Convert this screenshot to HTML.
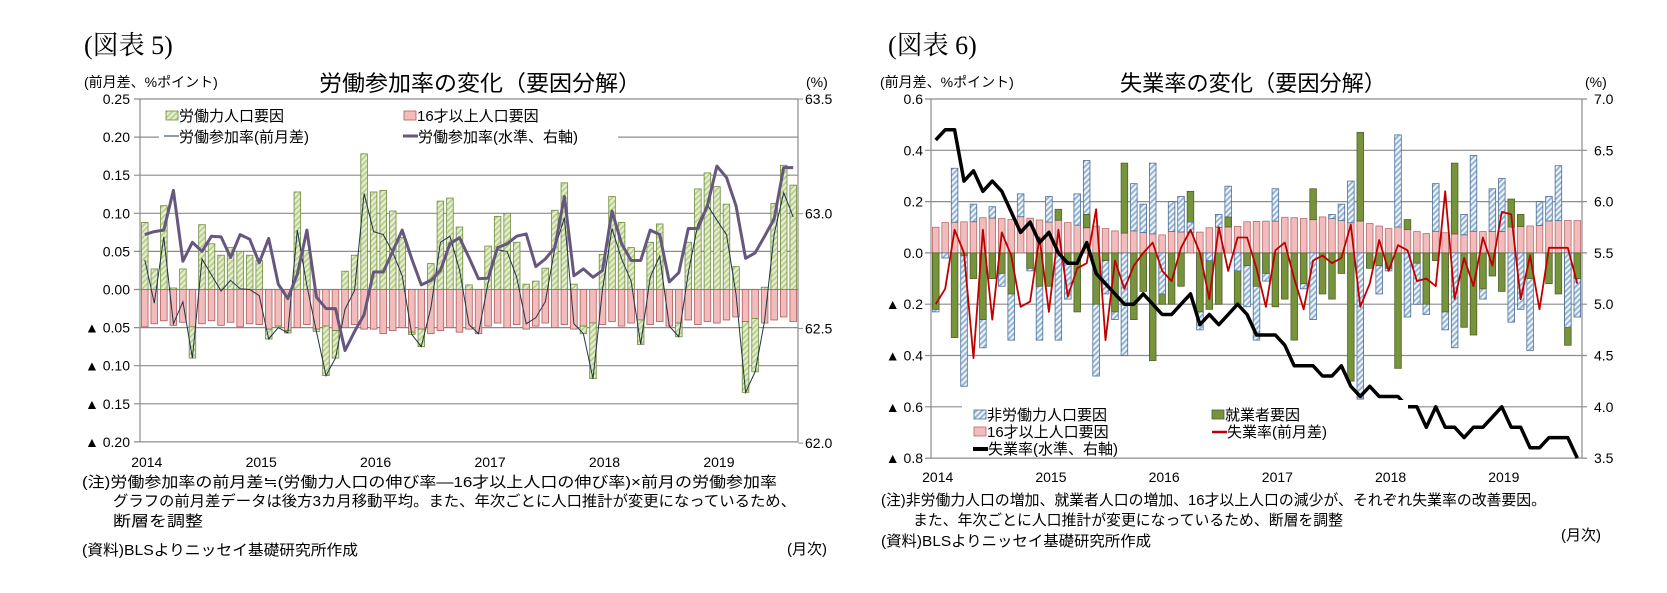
<!DOCTYPE html>
<html><head><meta charset="utf-8">
<style>
html,body{margin:0;padding:0;background:#fff;}
svg{display:block;}
text{font-family:"Liberation Sans","Noto Sans CJK JP",sans-serif;fill:#000;}
.ser{font-family:"Liberation Serif","Noto Serif CJK SC",serif;}
</style></head>
<body>
<svg id="s" width="1667" height="593" viewBox="0 0 1667 593" xmlns="http://www.w3.org/2000/svg">
<defs>
<pattern id="hg" width="4" height="4" patternUnits="userSpaceOnUse" patternTransform="rotate(45)">
<rect width="4" height="4" fill="#e4edcf"/><rect width="1.6" height="4" fill="#b5cc85"/></pattern>
<pattern id="hb" width="4" height="4" patternUnits="userSpaceOnUse" patternTransform="rotate(45)">
<rect width="4" height="4" fill="#eef3f8"/><rect width="1.8" height="4" fill="#8fb0d0"/></pattern>
</defs>
<g id="L"></g><g id="R"></g>
<text class="ser" x="84" y="54" font-size="26">(図表 5)</text>
<text x="84" y="87" font-size="14">(前月差、%ポイント)</text>
<text x="319" y="91" font-size="22" textLength="322" lengthAdjust="spacingAndGlyphs">労働参加率の変化（要因分解）</text>
<text x="806" y="87" font-size="14">(%)</text>
<text class="ser" x="888" y="54" font-size="26">(図表 6)</text>
<text x="880" y="87" font-size="14">(前月差、%ポイント)</text>
<text x="1120" y="91" font-size="22" textLength="266" lengthAdjust="spacingAndGlyphs">失業率の変化（要因分解）</text>
<text x="1585" y="87" font-size="14">(%)</text>

<text x="82" y="487" font-size="15" textLength="695" lengthAdjust="spacingAndGlyphs">(注)労働参加率の前月差≒(労働力人口の伸び率―16才以上人口の伸び率)×前月の労働参加率</text>
<text x="113" y="506" font-size="15" textLength="683" lengthAdjust="spacingAndGlyphs">グラフの前月差データは後方3カ月移動平均。また、年次ごとに人口推計が変更になっているため、</text>
<text x="113" y="526" font-size="15" textLength="90" lengthAdjust="spacingAndGlyphs">断層を調整</text>
<text x="82" y="555" font-size="15" textLength="276" lengthAdjust="spacingAndGlyphs">(資料)BLSよりニッセイ基礎研究所作成</text>
<text x="787" y="554" font-size="15">(月次)</text>

<text x="881" y="505" font-size="15" textLength="665" lengthAdjust="spacingAndGlyphs">(注)非労働力人口の増加、就業者人口の増加、16才以上人口の減少が、それぞれ失業率の改善要因。</text>
<text x="913" y="525" font-size="15" textLength="430" lengthAdjust="spacingAndGlyphs">また、年次ごとに人口推計が変更になっているため、断層を調整</text>
<text x="881" y="546" font-size="15" textLength="270" lengthAdjust="spacingAndGlyphs">(資料)BLSよりニッセイ基礎研究所作成</text>
<text x="1561" y="540" font-size="15">(月次)</text>
</svg>
<script>
var NS="http://www.w3.org/2000/svg";
function el(p,t,a,txt){var e=document.createElementNS(NS,t);for(var k in a)e.setAttribute(k,a[k]);if(txt!==undefined)e.textContent=txt;p.appendChild(e);return e;}
(function(){
var g=document.getElementById('L');
var x0=140,x1=798,yT=99,per=38.1/0.05;
function Y(v){return yT+(0.25-v)*per;}
var slot=(x1-x0)/69;
function X(i){return x0+slot*(i+0.5);}
var labs=["0.25","0.20","0.15","0.10","0.05","0.00","▲ 0.05","▲ 0.10","▲ 0.15","▲ 0.20"];
for(var k=0;k<10;k++){var v=0.25-0.05*k,y=Y(v);
 el(g,'line',{x1:x0-6,x2:x1,y1:y,y2:y,stroke:'#8c8c8c','stroke-width':1.2});
 el(g,'text',{x:130,y:y+5,'font-size':14,'text-anchor':'end'},labs[k]);}
for(var k=0;k<4;k++){var y=yT+k*114.7;el(g,'line',{x1:x1,x2:x1+5,y1:y,y2:y,stroke:'#8c8c8c'});
 el(g,'text',{x:805,y:y+5,'font-size':14},["63.5","63.0","62.5","62.0"][k]);}
el(g,'line',{x1:x0,x2:x0,y1:yT,y2:Y(-0.2),stroke:'#8c8c8c','stroke-width':1.2});
el(g,'line',{x1:x1,x2:x1,y1:yT,y2:Y(-0.2),stroke:'#8c8c8c','stroke-width':1.2});
var yrs=["2014","2015","2016","2017","2018","2019"];
for(var k=0;k<6;k++)el(g,'text',{x:X(12*k)+2,y:467,'font-size':14,'text-anchor':'middle'},yrs[k]);
var G=[0.088,0.027,0.11,0.002,0.027,-0.09,0.085,0.06,0.045,0.055,0.05,0.045,
0.038,-0.065,-0.05,-0.05,0.128,0.051,-0.05,-0.113,-0.09,0.024,0.045,0.178,
0.128,0.13,0.103,0.068,-0.05,-0.075,0.034,0.116,0.12,0.082,0.006,-0.058,
0.057,0.096,0.1,0.062,0.007,0.011,0.028,0.104,0.14,0.007,-0.058,-0.117,
0.046,0.122,0.088,0.055,-0.072,0.062,0.086,0.0,-0.062,0.062,0.132,0.153,
0.135,0.112,0.03,-0.135,-0.108,0.003,0.113,0.163,0.137];
var PY=[-0.045,-0.05,-0.054,-0.048,-0.044,-0.04];
var P=[0.072,0.076,0.078,0.13,0.037,0.062,0.05,0.07,0.069,0.042,0.072,0.066,
0.035,0.067,0.007,-0.012,0.02,0.078,-0.01,-0.025,-0.025,-0.08,-0.055,-0.033,
0.023,0.023,0.05,0.078,0.04,0.006,0.012,0.025,0.06,0.068,0.042,0.014,
0.015,0.055,0.06,0.07,0.073,0.03,0.04,0.055,
0.122,0.018,0.027,0.016,0.025,0.103,0.06,0.038,0.038,0.078,0.072,0.01,0.022,0.08,0.08,0.11,0.162,0.147,0.11,0.041,0.048,0.07,0.093,0.16,0.16];
var bw=6.6,thin=[],pur=[];
for(var i=0;i<69;i++){
 var p=PY[Math.floor(i/12)]+((i*7)%5-2)*0.002,x=X(i)-bw/2;
 el(g,'rect',{x:x,y:Y(0),width:bw,height:Y(p)-Y(0),fill:'#f2bcbc',stroke:'#b05a5a','stroke-width':0.8});
 var v=G[i],t;
 if(v>=0){el(g,'rect',{x:x,y:Y(v),width:bw,height:Y(0)-Y(v),fill:'url(#hg)',stroke:'#6d8a3c','stroke-width':0.8});t=v+p;}
 else{if(v>p)v=p-0.003;el(g,'rect',{x:x,y:Y(p),width:bw,height:Y(v)-Y(p),fill:'url(#hg)',stroke:'#6d8a3c','stroke-width':0.8});t=v;}
 thin.push(X(i).toFixed(1)+','+Y(t).toFixed(1));pur.push(X(i).toFixed(1)+','+Y(P[i]).toFixed(1));}
el(g,'polyline',{points:thin.join(' '),fill:'none',stroke:'#1f3345','stroke-width':1});
el(g,'polyline',{points:pur.join(' '),fill:'none',stroke:'#66577f','stroke-width':3,'stroke-linejoin':'round'});
el(g,'rect',{x:159,y:104,width:459,height:44,fill:'#fff'});
el(g,'rect',{x:166,y:111,width:12,height:9,fill:'url(#hg)',stroke:'#6d8a3c','stroke-width':0.8});
el(g,'text',{x:179,y:121,'font-size':15},'労働力人口要因');
el(g,'rect',{x:404,y:111,width:12,height:9,fill:'#f2bcbc',stroke:'#b05a5a','stroke-width':0.8});
el(g,'text',{x:417,y:121,'font-size':15},'16才以上人口要因');
el(g,'line',{x1:164,x2:179,y1:136,y2:136,stroke:'#1f3345','stroke-width':1});
el(g,'text',{x:179,y:142,'font-size':15},'労働参加率(前月差)');
el(g,'line',{x1:403,x2:418,y1:136,y2:136,stroke:'#66577f','stroke-width':3});
el(g,'text',{x:418,y:142,'font-size':15},'労働参加率(水準、右軸)');
})();
(function(){
var g=document.getElementById('R');
var x0=931,x1=1582,yT=99,per=51.3/0.2;
function Y(v){return yT+(0.6-v)*per;}
function YR(v){return yT+(7.0-v)/0.5*51.3;}
var slot=(x1-x0)/69;function X(i){return x0+slot*(i+0.5);}
var labs=["0.6","0.4","0.2","0.0","▲ 0.2","▲ 0.4","▲ 0.6","▲ 0.8"];
var rl=["7.0","6.5","6.0","5.5","5.0","4.5","4.0","3.5"];
for(var k=0;k<8;k++){var y=Y(0.6-0.2*k);
 el(g,'line',{x1:x0-6,x2:x1+5,y1:y,y2:y,stroke:'#8c8c8c','stroke-width':1.2});
 el(g,'text',{x:923,y:y+5,'font-size':14,'text-anchor':'end'},labs[k]);
 el(g,'text',{x:1594,y:y+5,'font-size':14},rl[k]);}
el(g,'line',{x1:x0,x2:x0,y1:yT,y2:Y(-0.8),stroke:'#8c8c8c','stroke-width':1.2});
el(g,'line',{x1:x1,x2:x1,y1:yT,y2:Y(-0.8),stroke:'#8c8c8c','stroke-width':1.2});
var yrs=["2014","2015","2016","2017","2018","2019"];
for(var k=0;k<6;k++)el(g,'text',{x:X(12*k)+2,y:482,'font-size':14,'text-anchor':'middle'},yrs[k]);
var B=[-0.23,-0.02,0.33,-0.52,0.19,-0.37,0.18,-0.13,-0.34,0.23,-0.07,-0.34,0.22,-0.34,-0.18,0.23,0.36,-0.48,-0.16,-0.26,-0.40,0.27,0.19,0.35,-0.16,0.20,0.22,0.12,-0.30,-0.03,0.15,0.26,-0.07,-0.21,-0.34,-0.11,0.25,-0.18,0.10,-0.14,-0.26,0.12,0.15,0.19,0.28,-0.57,0.11,-0.16,-0.07,0.46,-0.25,-0.20,-0.24,0.27,-0.30,-0.37,0.15,0.38,-0.18,0.25,0.29,-0.27,-0.22,-0.38,0.20,0.22,0.34,-0.29,-0.25];
var Gr=[-0.22,0.11,-0.33,-0.01,-0.10,-0.26,-0.10,-0.08,-0.16,0.1,-0.06,-0.13,-0.13,0.17,-0.04,-0.23,0.15,-0.2,-0.03,-0.23,0.35,-0.26,-0.15,-0.42,-0.2,-0.2,-0.13,0.24,-0.23,-0.22,-0.2,0.14,-0.2,-0.05,-0.13,-0.08,-0.21,-0.18,-0.34,-0.12,0.25,-0.16,-0.18,-0.08,-0.5,0.47,-0.06,-0.05,-0.06,-0.45,0.13,-0.04,-0.2,-0.03,-0.23,0.35,-0.29,-0.32,-0.14,-0.09,-0.15,0.21,0.15,-0.1,0.1,-0.12,-0.16,-0.36,-0.1];
var Rd=[-0.2,-0.14,0.09,0.0,-0.41,0.09,-0.26,0.08,-0.01,-0.21,-0.19,0.06,-0.23,0.09,-0.17,-0.06,-0.04,0.17,-0.34,-0.03,-0.14,-0.05,0.0,0.04,-0.07,-0.11,0.02,0.09,0.0,-0.18,0.1,-0.07,0.06,0.06,-0.06,-0.21,0.01,0.04,-0.1,-0.22,-0.03,-0.01,-0.04,-0.02,0.11,-0.21,-0.12,0.05,-0.07,0.03,0.01,-0.11,-0.1,-0.13,0.24,-0.18,-0.02,-0.13,0.06,-0.05,0.16,0.15,-0.18,-0.01,-0.22,0.02,0.02,0.02,-0.12];
var U=[6.6,6.7,6.7,6.2,6.3,6.1,6.2,6.1,5.9,5.7,5.8,5.6,5.7,5.5,5.4,5.4,5.6,5.3,5.2,5.1,5.0,5.0,5.1,5.0,4.9,4.9,5.0,5.1,4.8,4.9,4.8,4.9,5.0,4.9,4.7,4.7,4.7,4.6,4.4,4.4,4.4,4.3,4.3,4.4,4.2,4.1,4.2,4.1,4.1,4.1,4.0,4.0,3.8,4.0,3.8,3.8,3.7,3.8,3.8,3.9,4.0,3.8,3.8,3.6,3.6,3.7,3.7,3.7,3.5];
var bw=6.6,red=[],blk=[];
function bar(x,a,b,fill,st){var t=Math.min(Y(a),Y(b)),h=Math.abs(Y(a)-Y(b));if(h<0.5)return;el(g,'rect',{x:x,y:t,width:bw,height:h,fill:fill,stroke:st,'stroke-width':0.8});}
for(var i=0;i<69;i++){
 var p=0.10+0.03*Math.sin(i/5)+((i*3)%4)*0.004,x=X(i)-bw/2;
 bar(x,0,p,'#f2bcbc','#b86a6a');
 var items=[[B[i],'url(#hb)','#4c6e99'],[Gr[i],'#77933c','#4f6228']];
 items.sort(function(a,b){return Math.abs(b[0])-Math.abs(a[0]);});
 for(var j=0;j<2;j++){var v=items[j][0];
  if(v>=0){if(v>p)bar(x,p,v,items[j][1],items[j][2]);}
  else bar(x,0,v,items[j][1],items[j][2]);}
 red.push(X(i).toFixed(1)+','+Y(Rd[i]).toFixed(1));
 blk.push(X(i).toFixed(1)+','+YR(U[i]).toFixed(1));}
el(g,'polyline',{points:red.join(' '),fill:'none',stroke:'#c00000','stroke-width':1.8,'stroke-linejoin':'round'});
el(g,'polyline',{points:blk.join(' '),fill:'none',stroke:'#000','stroke-width':3.5,'stroke-linejoin':'round'});
el(g,'rect',{x:962,y:400,width:446,height:57,fill:'#fff'});
el(g,'rect',{x:974,y:410,width:12,height:9,fill:'url(#hb)',stroke:'#4c6e99','stroke-width':0.8});
el(g,'text',{x:987,y:420,'font-size':15},'非労働力人口要因');
el(g,'rect',{x:1212,y:410,width:12,height:9,fill:'#77933c',stroke:'#4f6228','stroke-width':0.8});
el(g,'text',{x:1225,y:420,'font-size':15},'就業者要因');
el(g,'rect',{x:974,y:427,width:12,height:9,fill:'#f2bcbc',stroke:'#b86a6a','stroke-width':0.8});
el(g,'text',{x:987,y:437,'font-size':15},'16才以上人口要因');
el(g,'line',{x1:1212,x2:1227,y1:432,y2:432,stroke:'#c00000','stroke-width':2.5});
el(g,'text',{x:1227,y:437,'font-size':15},'失業率(前月差)');
el(g,'line',{x1:973,x2:988,y1:449,y2:449,stroke:'#000','stroke-width':4});
el(g,'text',{x:988,y:454,'font-size':15},'失業率(水準、右軸)');
})();
</script>
</body></html>
